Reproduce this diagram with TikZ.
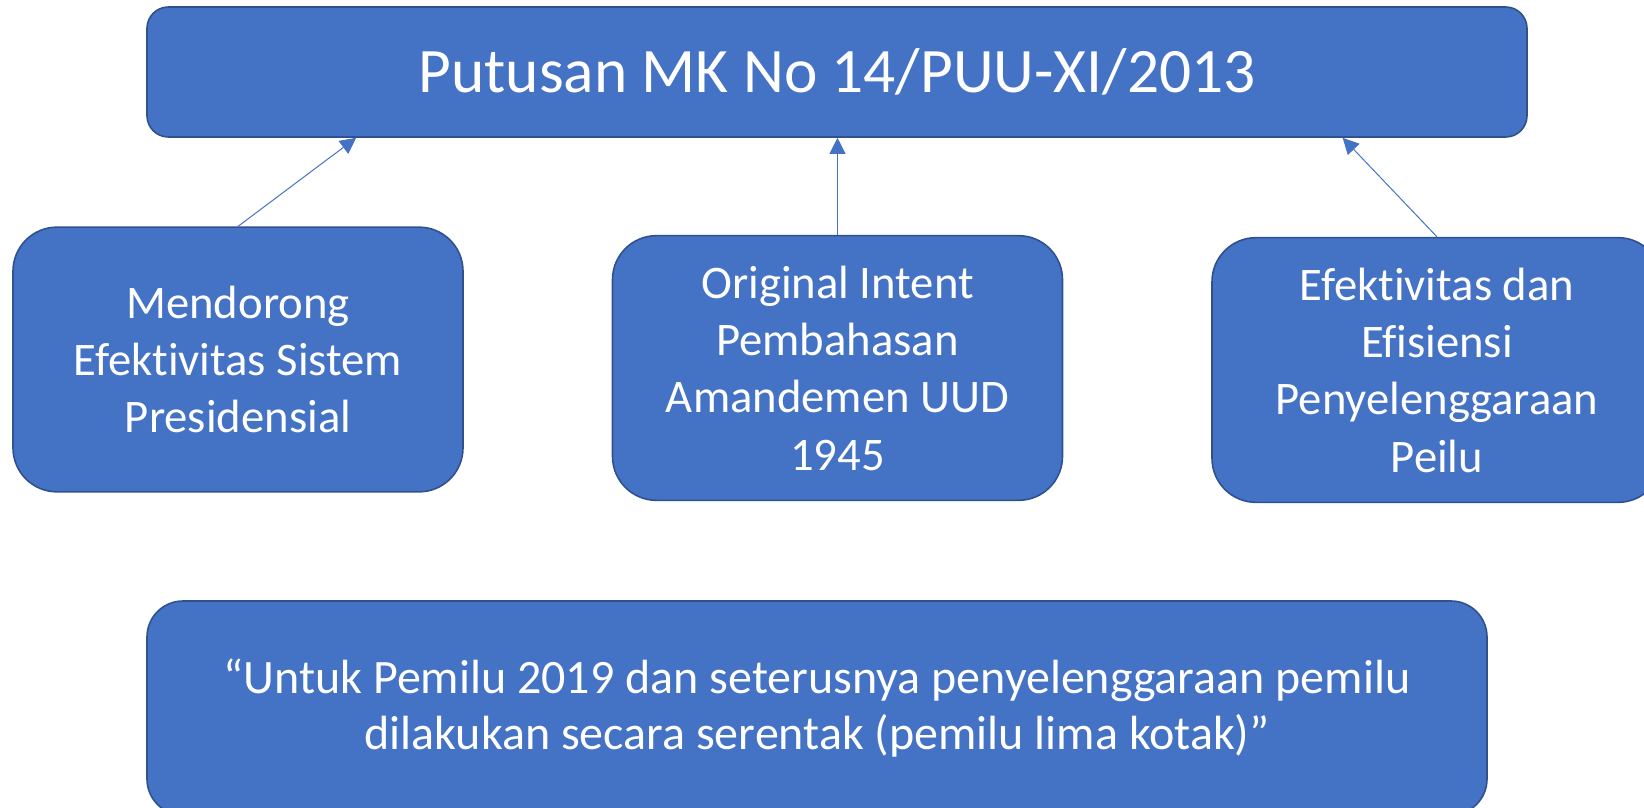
\documentclass[tikz,border=0pt]{standalone}
\usepackage{fontspec}
\setmainfont{Carlito}[Ligatures=NoCommon]
\usetikzlibrary{arrows.meta,calc}
\definecolor{boxblue}{HTML}{4472C4}
\definecolor{boxedge}{HTML}{2F528F}
\tikzset{
  box/.style={draw=boxedge, line width=1.2pt, fill=boxblue, text=white,
    align=center, inner sep=0pt},
  smallbox/.style={box, rounded corners=33pt, minimum width=337.5pt,
    minimum height=198.5pt, font=\fontsize{35}{43}\selectfont},
  link/.style={draw=boxblue, line width=0.75pt,
    -{Triangle[length=12pt,width=12pt]}}
}
\begin{document}
\begin{tikzpicture}[x=0.75pt,y=-0.75pt]
  \useasboundingbox (0,0) rectangle (1644,807);
  \clip (0,0) rectangle (1644,807);
  \node[box, rounded corners=16pt, minimum width=1035pt, minimum height=97.5pt,
    font=\fontsize{47.5}{57}\selectfont] (putusan) at (837,72)
    {\raisebox{-1.5pt}{Putusan MK No 14/PUU-XI/2013}};
  \node[smallbox] (mendorong) at (238,359.5)
    {Mendorong\\Efektivitas Sistem\\Presidensial};
  \node[smallbox] (intent) at (837.5,368)
    {Original Intent\\Pembahasan\\Amandemen UUD\\1945};
  \node[smallbox] (efisiensi) at (1437,370)
    {Efektivitas dan\\Efisiensi\\Penyelenggaraan\\Peilu};
  \node[box, rounded corners=27pt, minimum width=1005pt, minimum height=160.5pt,
    font=\fontsize{36}{42}\selectfont] (serentak) at (817,708)
    {“Untuk Pemilu 2019 dan seterusnya penyelenggaraan pemilu\\dilakukan secara serentak (pemilu lima kotak)”};
  \coordinate (tipa) at ($(putusan.south west)!0.152!(putusan.south east)$);
  \coordinate (tipc) at ($(putusan.south west)!0.866!(putusan.south east)$);
  \begin{scope}[link]
    \draw (mendorong.north) to (tipa);
    \draw (intent.north) to (intent.north |- putusan.south);
    \draw (efisiensi.north) to (tipc);
  \end{scope}
\end{tikzpicture}
\end{document}
